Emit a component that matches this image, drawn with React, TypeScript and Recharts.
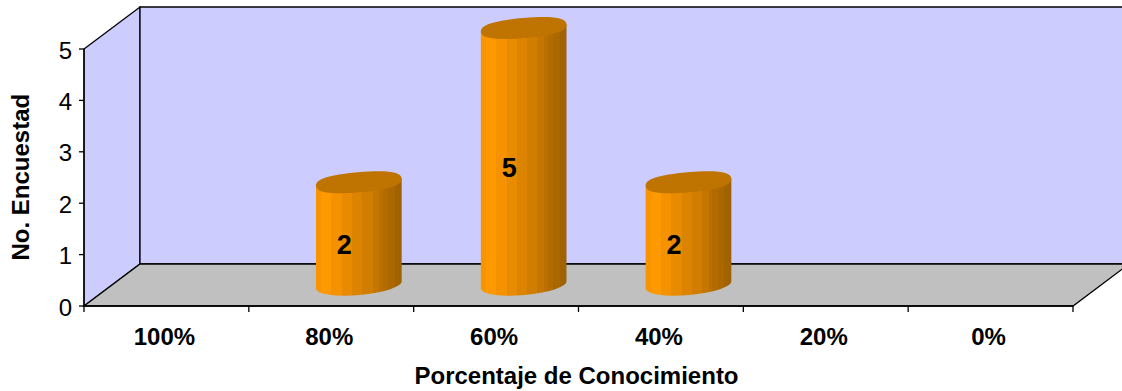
import { Bar, BarChart, LabelList, XAxis, YAxis } from "recharts"

const categories = ["100%", "80%", "60%", "40%", "20%", "0%"]
const encuestados = [null, 2, 5, 2, null, null]
const yTicks = [0, 1, 2, 3, 4, 5]

const data = categories.map((categoria, i) => ({ categoria, encuestados: encuestados[i] }))

const WIDTH = 1122
const HEIGHT = 391
const LEFT = 84
const RIGHT = 1073
const TOP = 49
const BOTTOM = 306
// 3D depth of the box
const DX = 56
const DY = 42
const BAND = (RIGHT - LEFT) / categories.length
const FONT = "'Liberation Sans', Arial, sans-serif"

const ELLIPSE_RX = 43
const ELLIPSE_RY = 10
const ELLIPSE_TILT = 5
// rounder than a true ellipse (0.55), the cap is a bit boxy
const CAP_K = 0.68

// vertical facets of the cylinder side, left to right
const SHADES: [number, string][] = [
  [0, "#F79400"],
  [0.06, "#FF9900"],
  [0.18, "#F49200"],
  [0.3, "#E88B00"],
  [0.42, "#DC8400"],
  [0.54, "#D07D00"],
  [0.66, "#C47600"],
  [0.74, "#BA7000"],
  [0.78, "#B36B00"],
  [0.84, "#AB6700"],
  [0.92, "#A36200"],
  [0.97, "#9C6208"],
]

function Cylinder({ x, y, width, height }: any) {
  if (!height) return null
  const cx = x + width / 2 + DX / 2
  const top = y - DY / 2
  const bottom = top + height
  const rad = (ELLIPSE_TILT * Math.PI) / 180
  const ex = ELLIPSE_RX * Math.cos(rad)
  const ey = ELLIPSE_RX * Math.sin(rad)
  const body = `M${cx - ex} ${top + ey} L${cx + ex} ${top - ey} L${cx + ex} ${bottom - ey} A${ELLIPSE_RX} ${ELLIPSE_RY} ${-ELLIPSE_TILT} 0 1 ${cx - ex} ${bottom + ey} Z`
  const rx = ELLIPSE_RX
  const ry = ELLIPSE_RY
  const kx = rx * CAP_K
  const ky = ry * CAP_K
  const cap = `M${-rx} 0 C${-rx} ${-ky} ${-kx} ${-ry} 0 ${-ry} C${kx} ${-ry} ${rx} ${-ky} ${rx} 0 C${rx} ${ky} ${kx} ${ry} 0 ${ry} C${-kx} ${ry} ${-rx} ${ky} ${-rx} 0 Z`
  return (
    <g>
      <path d={body} fill="url(#cylinderShade)" />
      <path d={cap} fill="#BF7300" transform={`translate(${cx} ${top}) rotate(${-ELLIPSE_TILT})`} />
    </g>
  )
}

function BarValue({ x, y, width, height, value }: any) {
  if (value == null) return null
  return (
    <text
      x={x + width / 2 + 13.5}
      y={y + height / 2 - 10}
      textAnchor="middle"
      dominantBaseline="central"
      fontFamily={FONT}
      fontWeight="bold"
      fontSize={27}
      fill="#000"
    >
      {value}
    </text>
  )
}

// tick marks sit on the band edges, the labels in the band centre
function CategoryTick({ x, y, payload, index }: any) {
  return (
    <g>
      <line x1={x - BAND / 2} x2={x - BAND / 2} y1={BOTTOM} y2={BOTTOM + 6} stroke="#000" strokeWidth={1.3} />
      {index === categories.length - 1 && (
        <line x1={x + BAND / 2} x2={x + BAND / 2} y1={BOTTOM} y2={BOTTOM + 6} stroke="#000" strokeWidth={1.3} />
      )}
      <text x={x - 2} y={y + 31} textAnchor="middle" fontFamily={FONT} fontWeight="bold" fontSize={24} fill="#000">
        {payload.value}
      </text>
    </g>
  )
}

export default function App() {
  return (
    <div style={{ position: "absolute", left: 0, top: 0, width: WIDTH, height: HEIGHT, background: "#fff" }}>
      <BarChart
        width={WIDTH}
        height={HEIGHT}
        data={data}
        margin={{ top: TOP, right: WIDTH - RIGHT, bottom: 0, left: 0 }}
      >
        <defs>
          <linearGradient id="cylinderShade" x1="0" y1="0" x2="1" y2="0">
            {SHADES.flatMap(([offset, color], i) => [
              <stop key={`${i}a`} offset={offset} stopColor={color} />,
              <stop key={`${i}b`} offset={i + 1 < SHADES.length ? SHADES[i + 1][0] : 1} stopColor={color} />,
            ])}
          </linearGradient>
        </defs>
        <polygon
          points={`${LEFT},${TOP} ${LEFT + DX},${TOP - DY} ${LEFT + DX},${BOTTOM - DY} ${LEFT},${BOTTOM}`}
          fill="#CCCCFF"
          stroke="#000"
          strokeWidth={1.3}
        />
        <polygon
          points={`${LEFT + DX},${TOP - DY} ${WIDTH + 10},${TOP - DY} ${WIDTH + 10},${BOTTOM - DY} ${LEFT + DX},${BOTTOM - DY}`}
          fill="#CCCCFF"
          stroke="#000"
          strokeWidth={1.3}
        />
        <polygon
          points={`${LEFT},${BOTTOM} ${LEFT + DX},${BOTTOM - DY} ${WIDTH + 10},${BOTTOM - DY} ${RIGHT + DX},${BOTTOM - DY} ${RIGHT},${BOTTOM}`}
          fill="#C0C0C0"
          stroke="#000"
          strokeWidth={1.3}
        />
        <XAxis
          dataKey="categoria"
          height={HEIGHT - BOTTOM}
          interval={0}
          tickLine={false}
          axisLine={{ stroke: "#000", strokeWidth: 1.3 }}
          tick={<CategoryTick />}
          label={{
            value: "Porcentaje de Conocimiento",
            position: "insideBottom",
            offset: 7,
            dx: -2,
            fontFamily: FONT,
            fontWeight: "bold",
            fontSize: 24,
            fill: "#000",
          }}
        />
        <YAxis
          width={LEFT}
          domain={[0, 5]}
          ticks={yTicks}
          interval={0}
          tickSize={5}
          tickMargin={7}
          tickLine={{ stroke: "#000", strokeWidth: 1.3 }}
          axisLine={{ stroke: "#000", strokeWidth: 1.3 }}
          tick={{ fontFamily: FONT, fontSize: 24, fill: "#000", dy: 1 }}
          label={{
            value: "No. Encuestad",
            angle: -90,
            position: "insideLeft",
            offset: 20,
            dy: 83,
            fontFamily: FONT,
            fontWeight: "bold",
            fontSize: 24,
            fill: "#000",
          }}
        />
        <Bar dataKey="encuestados" barSize={86} shape={<Cylinder />} isAnimationActive={false}>
          <LabelList dataKey="encuestados" content={<BarValue />} />
        </Bar>
      </BarChart>
    </div>
  )
}
